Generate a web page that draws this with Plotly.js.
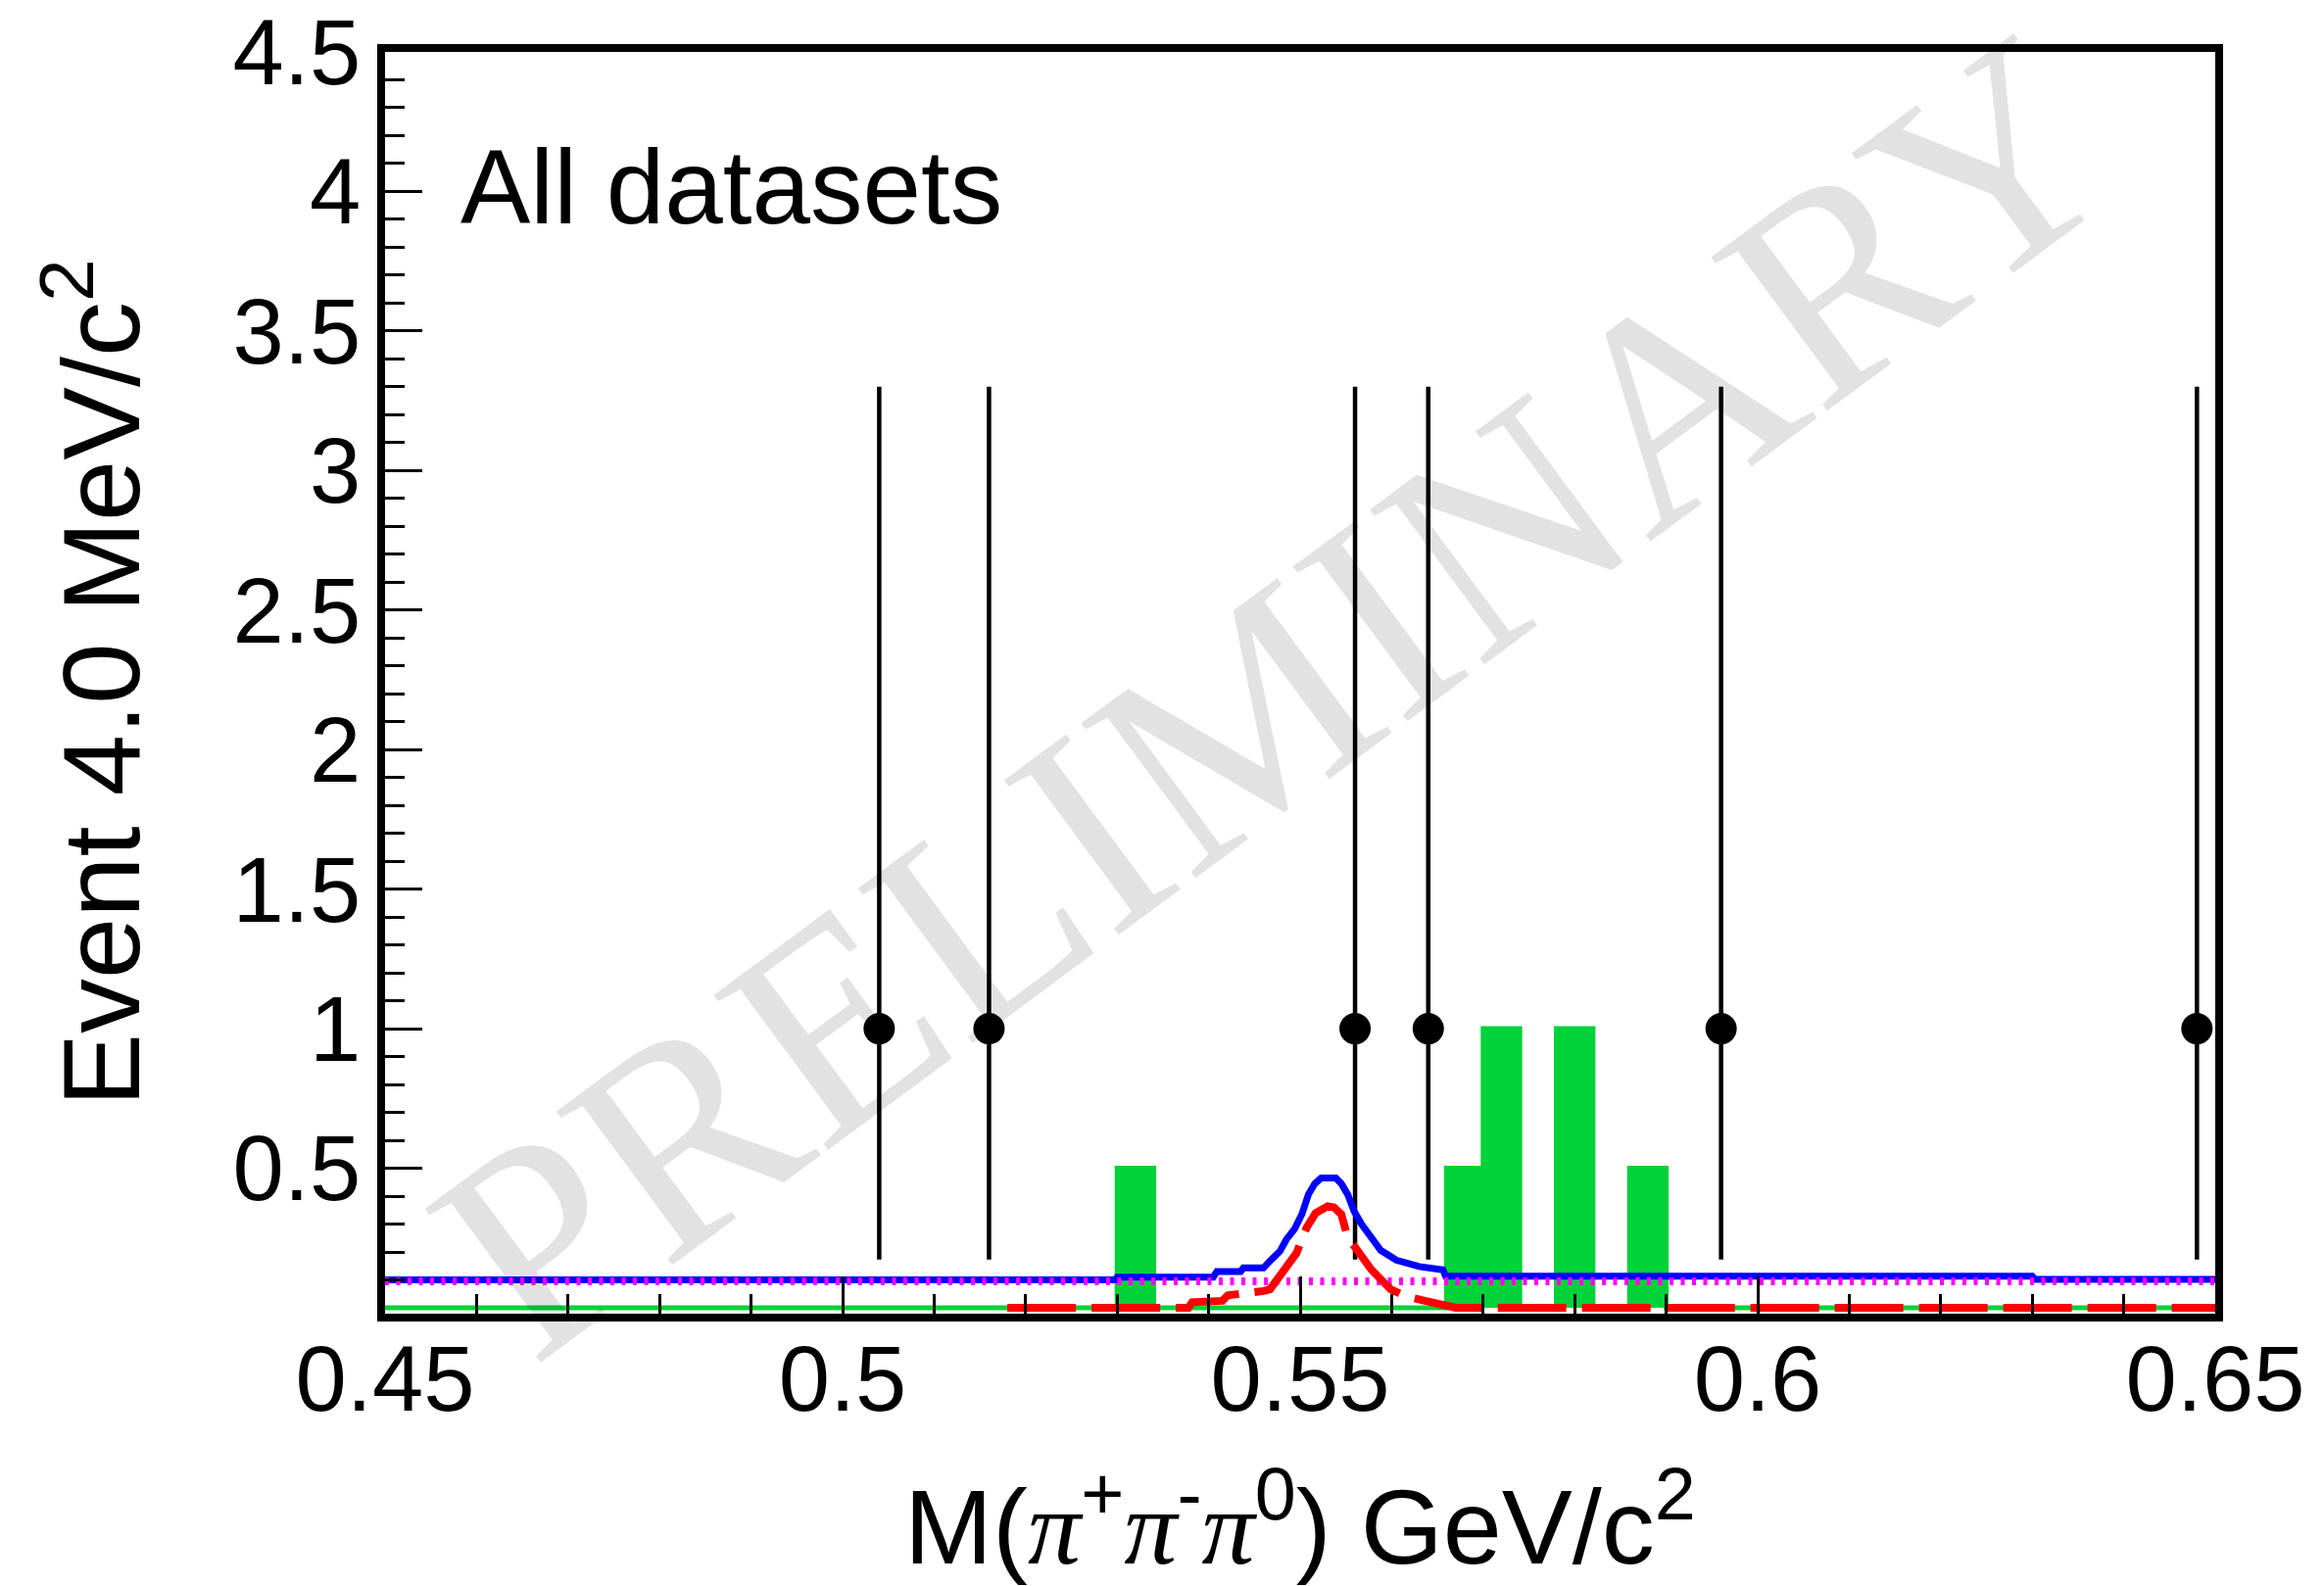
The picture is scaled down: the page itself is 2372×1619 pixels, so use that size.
<!DOCTYPE html>
<html>
<head>
<meta charset="utf-8">
<script src="https://cdn.plot.ly/plotly-3.0.1.min.js"></script>
<style>
  html, body { margin: 0; padding: 0; background: #ffffff; }
  #chart { width: 2372px; height: 1619px; }
</style>
</head>
<body>
<div id="chart"></div>
<script>
// Fit window and binning (4 MeV/c^2 bins)
const massWindow = [0.45, 0.65];
const binWidth = 0.004;

// Observed candidates: bin centres, counts and Poisson intervals
const dataMass = [0.504, 0.516, 0.556, 0.564, 0.596, 0.648];
const dataEvents = [1, 1, 1, 1, 1, 1];
const dataErrLow = [0.827, 0.827, 0.827, 0.827, 0.827, 0.827];
const dataErrHigh = [2.30, 2.30, 2.30, 2.30, 2.30, 2.30];

// Sideband histogram: non-empty bins (centres) and their contents
const sidebandMass = [0.532, 0.568, 0.572, 0.580, 0.588];
const sidebandEvents = [0.5, 0.5, 1.0, 1.0, 0.5];

// Total fit curve
const fitMass = [0.450, 0.5298, 0.5300, 0.5405, 0.5409, 0.5435, 0.5438, 0.5460, 0.5467,
                 0.5478, 0.5485, 0.5494, 0.5502, 0.5509, 0.5516, 0.5523, 0.5539, 0.5545,
                 0.5552, 0.5559, 0.5567, 0.5577, 0.5588, 0.5605, 0.5630, 0.5656, 0.5659,
                 0.6300, 0.6303, 0.650];
const fitTotal = [0.100, 0.100, 0.110, 0.110, 0.130, 0.130, 0.143, 0.143, 0.168,
                  0.203, 0.245, 0.283, 0.336, 0.406, 0.445, 0.465, 0.465, 0.445,
                  0.406, 0.346, 0.300, 0.253, 0.206, 0.171, 0.148, 0.136, 0.113,
                  0.113, 0.102, 0.102];

// Signal component
const sigMass = [0.518, 0.5378, 0.5382, 0.5415, 0.5421, 0.5445, 0.5460, 0.5467, 0.5481,
                 0.5496, 0.5507, 0.5517, 0.5530, 0.5537, 0.5545, 0.5552, 0.5560, 0.5569,
                 0.5578, 0.5599, 0.5614, 0.5635, 0.5656, 0.5670, 0.650];
const sigYield = [0, 0, 0.020, 0.025, 0.045, 0.050, 0.060, 0.066, 0.126,
                  0.196, 0.287, 0.340, 0.364, 0.360, 0.335, 0.252, 0.217, 0.171,
                  0.136, 0.066, 0.043, 0.026, 0.010, 0, 0];

// Background component
const bkgMass = [0.45, 0.65];
const bkgYield = [0.095, 0.095];

// Axis labels
const xTickVals = [0.45, 0.5, 0.55, 0.6, 0.65];
const xTickText = ['0.45', '0.5', '0.55', '0.6', '0.65'];
const yTickVals = [0.5, 1, 1.5, 2, 2.5, 3, 3.5, 4, 4.5];
const yTickText = ['0.5', '1', '1.5', '2', '2.5', '3', '3.5', '4', '4.5'];

// ---- build the sideband step histogram over the full window ----
const nBins = Math.round((massWindow[1] - massWindow[0]) / binWidth);
const histX = [];
const histY = [];
for (let i = 0; i < nBins; i++) {
  const lo = massWindow[0] + i * binWidth;
  const centre = lo + binWidth / 2;
  let content = 0;
  sidebandMass.forEach((m, k) => {
    if (Math.abs(m - centre) < binWidth / 2) content += sidebandEvents[k];
  });
  histX.push(lo);
  histY.push(content);
}
histX.push(massWindow[1]);
histY.push(histY[histY.length - 1]);

// minor tick positions
const yMinor = [];
for (let v = 1; v <= 45; v++) if (v % 5 !== 0) yMinor.push(v / 10);
const xMinor = [];
for (let v = 45; v <= 65; v++) if (v % 5 !== 0) xMinor.push(v / 100);

const GREEN = '#00d23a';
const FONT = 'Liberation Sans, Arial, Helvetica, sans-serif';
const PI = '<span style="font-family:Liberation Serif;font-style:italic">π</span>';

const traces = [
  {
    name: 'sideband',
    x: histX, y: histY,
    type: 'scatter', mode: 'lines',
    line: { shape: 'hv', color: GREEN, width: 5 },
    fill: 'tozeroy', fillcolor: GREEN,
    hoverinfo: 'skip'
  },
  {
    name: 'data',
    x: dataMass, y: dataEvents,
    type: 'scatter', mode: 'markers',
    marker: { symbol: 'circle', size: 32, color: '#000000' },
    error_y: {
      type: 'data', symmetric: false,
      array: dataErrHigh, arrayminus: dataErrLow,
      color: '#000000', thickness: 4.5, width: 0
    }
  },
  {
    name: 'total fit',
    x: fitMass, y: fitTotal,
    type: 'scatter', mode: 'lines',
    line: { color: '#0000ff', width: 7 }
  },
  {
    name: 'background',
    x: bkgMass, y: bkgYield,
    type: 'scatter', mode: 'lines',
    line: { color: '#ff00ff', width: 8, dash: '4px,7.5px' }
  },
  {
    name: 'signal',
    x: sigMass, y: sigYield,
    type: 'scatter', mode: 'lines',
    line: { color: '#ff0000', width: 8, dash: '70px,16px' }
  }
];

const axisCommon = {
  showline: true, linecolor: '#000000', linewidth: 8, mirror: true,
  showgrid: false, zeroline: false,
  ticks: 'inside', ticklen: 38, tickwidth: 3, tickcolor: '#000000',
  tickfont: { family: FONT, size: 94, color: '#000000' },
  automargin: false
};

const layout = {
  width: 2372, height: 1619,
  paper_bgcolor: '#ffffff', plot_bgcolor: 'rgba(0,0,0,0)',
  margin: { l: 393, r: 111, t: 53, b: 278 },
  showlegend: false,
  xaxis: Object.assign({}, axisCommon, {
    range: massWindow,
    tickmode: 'array', tickvals: xTickVals, ticktext: xTickText,
    ticklabelstandoff: -22,
    minor: { tickmode: 'array', tickvals: xMinor, ticks: 'inside', ticklen: 20, tickwidth: 3, tickcolor: '#000000', showgrid: false },
    title: {
      text: 'M(' + PI + '<sup>+</sup>' + PI + '<sup>-</sup>' + PI + '<sup>0</sup>) GeV/c<sup>2</sup>',
      font: { family: FONT, size: 108, color: '#000000' },
      standoff: 88
    }
  }),
  yaxis: Object.assign({}, axisCommon, {
    range: [-0.021, 4.5],
    tickmode: 'array', tickvals: yTickVals, ticktext: yTickText,
    ticklabelstandoff: -2,
    minor: { tickmode: 'array', tickvals: yMinor, ticks: 'inside', ticklen: 20, tickwidth: 3, tickcolor: '#000000', showgrid: false },
    title: {
      text: 'Event 4.0 MeV/c<sup>2</sup>',
      font: { family: FONT, size: 112, color: '#000000' },
      standoff: 60
    }
  }),
  annotations: [
    {
      text: 'PRELIMINARY',
      xref: 'paper', yref: 'paper', x: 0.486, y: 0.489,
      xanchor: 'center', yanchor: 'middle',
      textangle: -36.5, showarrow: false,
      font: { family: 'Liberation Serif, Times New Roman, serif', size: 300, color: 'rgba(0,0,0,0.115)' }
    },
    {
      text: 'All datasets',
      xref: 'paper', yref: 'paper', x: 0.04, y: 0.893,
      xanchor: 'left', yanchor: 'middle', showarrow: false,
      font: { family: FONT, size: 107, color: '#000000' }
    }
  ]
};

Plotly.newPlot('chart', traces, layout, { staticPlot: true, displayModeBar: false });
</script>
</body>
</html>
